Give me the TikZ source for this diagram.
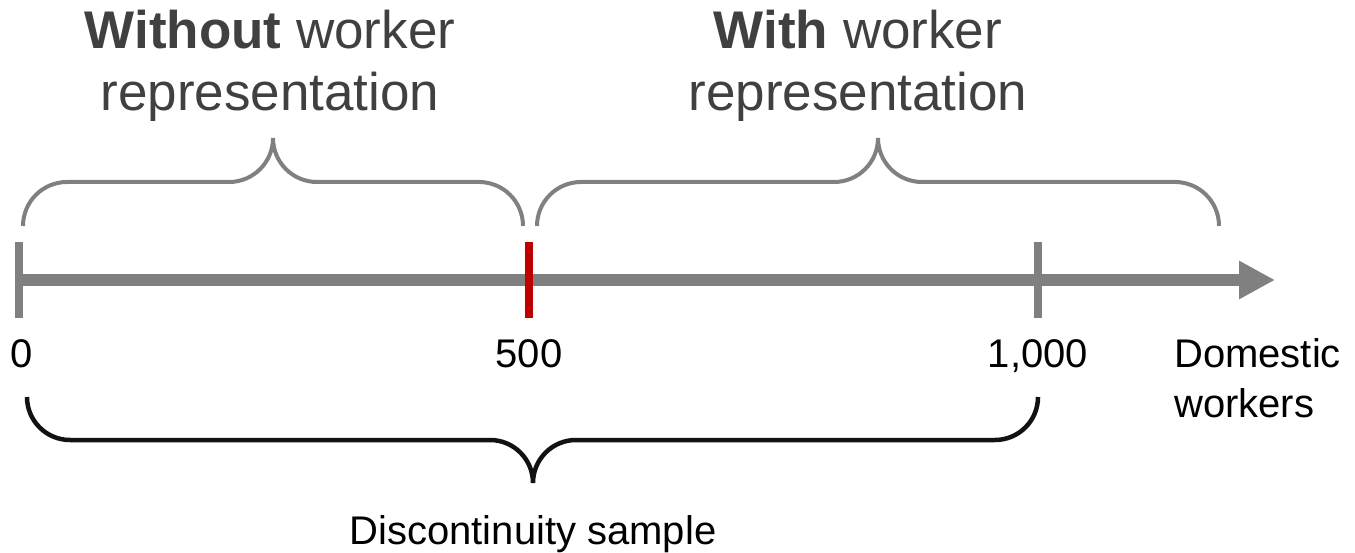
\documentclass[tikz,border=0pt]{standalone}
\usepackage{fontspec}
\setmainfont{Liberation Sans}
\usetikzlibrary{arrows.meta, positioning}

\definecolor{axisgray}{RGB}{128,128,128}
\definecolor{labelgray}{RGB}{64,64,64}
\definecolor{cutred}{RGB}{192,0,0}

\tikzset{
	axisline/.style={axisgray, line width=12pt, -{Triangle[length=36pt, width=36pt]}},
	tickmark/.style={axisgray, line width=8pt},
	graybrace/.style={axisgray, line width=4pt},
	blackbrace/.style={black!93, line width=4.5pt},
	headlabel/.style={labelgray, inner sep=0pt, anchor=base, font=\fontsize{53}{62}\selectfont},
	ticklabel/.style={black, inner sep=0pt, anchor=base, font=\fontsize{40}{50}\selectfont}
}

\begin{document}
\begin{tikzpicture}[x=1pt, y=1pt]
	\useasboundingbox (0,0) rectangle (1355,552);
	% axis and ticks
	\coordinate (zero) at (19,272);
	\coordinate (cut) at (529,272);
	\coordinate (thousand) at (1038,272);
	\coordinate (tip) at (1275,272);
	\draw[axisline] (zero) -- (tip);
	\draw[tickmark] ([yshift=-38pt]zero) -- ([yshift=38pt]zero);
	\draw[tickmark] ([yshift=-38pt]thousand) -- ([yshift=38pt]thousand);
	\draw[tickmark, cutred] ([yshift=-38pt]cut) -- ([yshift=38pt]cut);
	% braces above
	\draw[graybrace] (23,326) arc[start angle=180, end angle=90, radius=44]
		-- (229,370) arc[start angle=-90, end angle=0, radius=44]
		arc[start angle=180, end angle=270, radius=44]
		-- (479,370) arc[start angle=90, end angle=0, radius=44];
	\draw[graybrace] (537,326) arc[start angle=180, end angle=90, radius=44]
		-- (834,370) arc[start angle=-90, end angle=0, radius=44]
		arc[start angle=180, end angle=270, radius=44]
		-- (1175,370) arc[start angle=90, end angle=0, radius=44];
	% brace below
	\draw[blackbrace] (27,155) arc[start angle=180, end angle=270, radius=43]
		-- (490,112) arc[start angle=90, end angle=0, radius=43]
		arc[start angle=180, end angle=90, radius=43]
		-- (995,112) arc[start angle=270, end angle=360, radius=43];
	% labels
	\node[headlabel] (without1) at (270,503) {\textbf{Without} worker};
	\node[headlabel] (without2) at (270,441) {representation};
	\node[headlabel] (with1) at (858,503) {\textbf{With} worker};
	\node[headlabel] (with2) at (858,441) {representation};
	\node[ticklabel] (lab0) at (22,184) {0};
	\node[ticklabel] (lab500) at (529,184) {500};
	\node[ticklabel] (lab1000) at (1038,184) {1,000};
	\node[ticklabel, anchor=base west] (dom1) at (1174,184) {Domestic};
	\node[ticklabel, anchor=base west] (dom2) at (1174,135) {workers};
	\node[ticklabel] (sample) at (533,8) {Discontinuity sample};
\end{tikzpicture}
\end{document}
